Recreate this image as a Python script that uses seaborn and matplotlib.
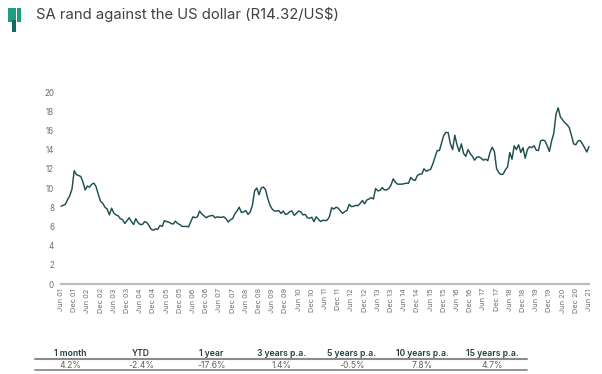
import numpy as np
import pandas as pd
import matplotlib
matplotlib.use("Agg")
import matplotlib.pyplot as plt
from matplotlib.patches import Rectangle
from matplotlib.lines import Line2D
import seaborn as sns

rand_per_usd = [
8.1,8.2,8.3,8.8,9.2,9.9,11.8,11.4,11.3,11.2,10.6,9.8,10.2,10.1,10.4,10.5,10.1,9.3,8.6,8.4,8.0,7.8,7.2,7.9,7.4,7.2,7.1,6.8,6.7,6.3,
6.6,6.9,6.5,6.2,6.8,6.4,6.2,6.2,6.5,6.4,6.1,5.7,5.6,5.75,5.7,6.1,6.0,6.6,6.5,6.45,6.3,6.25,6.55,6.3,6.2,6.0,6.0,6.0,5.95,6.5,
7.0,6.9,7.0,7.6,7.3,7.1,6.9,7.05,7.1,7.15,6.9,7.0,6.95,6.95,7.0,6.8,6.45,6.7,6.8,7.3,7.6,8.0,7.45,7.5,7.65,7.25,7.5,8.2,9.7,10.0,
9.3,10.0,10.1,9.8,8.9,8.2,7.8,7.6,7.6,7.65,7.35,7.6,7.25,7.3,7.55,7.6,7.15,7.35,7.6,7.5,7.2,7.25,6.9,6.85,6.95,6.5,7.0,6.75,
6.5,6.65,6.6,6.65,7.0,7.95,7.8,8.0,7.9,7.6,7.35,7.55,7.65,8.3,8.05,8.1,8.2,8.15,8.4,8.7,8.35,8.75,8.85,9.0,8.85,9.95,9.7,9.75,
10.05,9.8,9.8,9.95,10.3,10.95,10.6,10.4,10.4,10.4,10.45,10.5,10.5,11.1,10.85,10.8,11.3,11.45,11.45,12.0,11.75,11.85,11.95,12.5,13.2,13.9,13.9,14.7,15.5,15.8,
15.75,14.6,14.0,15.5,14.5,13.8,14.6,13.6,13.3,14.0,13.6,13.3,12.9,13.2,13.25,13.1,12.9,13.0,12.85,13.7,14.25,13.8,12.0,11.6,11.4,11.45,11.9,12.2,13.7,13.0,
14.4,14.0,14.5,13.7,14.2,13.1,14.0,14.3,14.2,14.4,13.95,13.9,14.9,15.0,14.9,14.4,13.8,14.9,15.7,17.7,18.35,17.4,17.1,16.8,16.6,16.3,15.5,14.6,14.5,14.9,
14.95,14.6,14.2,13.75,14.32]
y_ticks = [0, 2, 4, 6, 8, 10, 12, 14, 16, 18, 20]
x_tick_labels = [f"{m} {y:02d}" for y in range(1, 21) for m in ("Jun", "Dec")] + ["Jun 21"]
title = "SA rand against the US dollar (R14.32/US$)"
table_headers = ["1 month", "YTD", "1 year", "3 years p.a.", "5 years p.a.", "10 years p.a.", "15 years p.a."]
table_values = ["4.2%", "-2.4%", "-17.6%", "1.4%", "-0.5%", "7.8%", "4.7%"]

W, H = 602, 374
sns.set_theme(style="white")
plt.rcParams["font.family"] = ["Inter", "DejaVu Sans"]

fig = plt.figure(figsize=(W / 100, H / 100), dpi=100, facecolor="white")
ax = fig.add_axes([61 / W, 1 - 284 / H, 528 / W, 192 / H])

df = pd.DataFrame({"month": np.arange(len(rand_per_usd)), "rate": rand_per_usd})
sns.lineplot(data=df, x="month", y="rate", color="#1f4f50", linewidth=1.05, ax=ax, clip_on=False)
ax.set_xlim(0, 240)
ax.set_ylim(0, 20)
ax.set_xlabel("")
ax.set_ylabel("")
ax.set_yticks(y_ticks)
ax.tick_params(axis="y", labelsize=5.8)
ax.set_xticks(np.arange(len(x_tick_labels)) * 6)
ax.set_xticklabels(x_tick_labels, rotation=90)
ax.tick_params(axis="both", length=0, labelcolor="#6e6e6e")
ax.tick_params(axis="x", pad=3, labelsize=5.3)
ax.tick_params(axis="y", pad=5)
for s in ("top", "left", "right"):
    ax.spines[s].set_visible(False)
ax.spines["bottom"].set_color("#bdbdbd")
ax.spines["bottom"].set_linewidth(1.6)

def fx(px):
    return px / W

def fy(py):
    return 1 - py / H

# logo
for x0, y0, w, h, c in [(7.5, 8, 4, 14, "#1f9c82"), (12.2, 8, 4, 12, "#1f9c82"), (12.2, 20.5, 4, 11.5, "#0f6b5f"), (16.9, 8, 4, 14, "#1f9c82")]:
    fig.add_artist(Rectangle((fx(x0), fy(y0 + h)), w / W, h / H, transform=fig.transFigure, color=c, lw=0))

fig.text(fx(36), fy(15), title, fontsize=10.7, color="#404040", va="center", ha="left")

# table
col_w = 70.3
for i, (head, val) in enumerate(zip(table_headers, table_values)):
    cx = 35.5 + col_w * (i + 0.5)
    fig.text(fx(cx), fy(353.5), head, fontsize=6.2, color="#1f3f40", fontweight="semibold", ha="center", va="center")
    fig.text(fx(cx), fy(365), val, fontsize=6.2, color="#606060", ha="center", va="center")
for py, lw in [(359, 1.5), (370, 1.3)]:
    fig.add_artist(Line2D([fx(35), fx(527)], [fy(py), fy(py)], transform=fig.transFigure, color="#8c8c8c", lw=lw))

fig.savefig("out.png", dpi=100)
